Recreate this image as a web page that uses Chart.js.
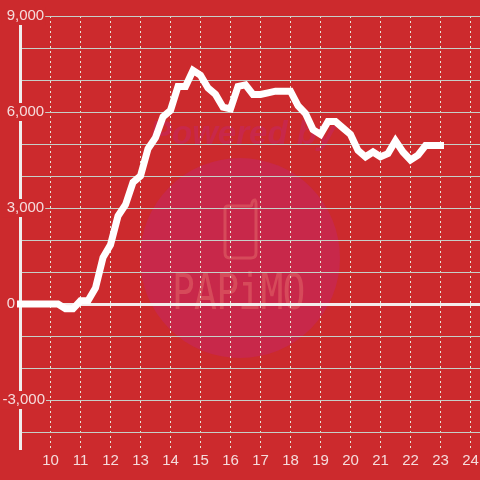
<!DOCTYPE html>
<html>
<head>
<meta charset="utf-8">
<style>html,body{margin:0;padding:0;background:#cc2a2d}canvas{display:block}</style>
<script src="https://cdn.jsdelivr.net/npm/chart.js@4/dist/chart.umd.min.js"></script>
</head>
<body>
<canvas id="c" width="480" height="480"></canvas>
<script>
const startHour = 9;
const stepHours = 0.25;
const values = [0,0,0,0,0,0,-150,-150,100,100,500,1450,1850,2750,3100,3800,4000,4850,5200,5850,6050,6800,6800,7300,7150,6750,6550,6150,6100,6800,6850,6550,6550,6600,6650,6650,6650,6200,5950,5450,5300,5700,5700,5500,5300,4800,4600,4750,4600,4700,5100,4750,4500,4650,4950,4950,4950];
const xTickValues = [9,10,11,12,13,14,15,16,17,18,19,20,21,22,23,24];
const yTickValues = [9000,8000,7000,6000,5000,4000,3000,2000,1000,0,-1000,-2000,-3000,-4000];
const labeledEvery = 3000;
const watermarkTop = "Powered by";
const watermarkLogo = "PAPiMO";

const RED = '#cc2a2d';
const LABEL = '#f5dcdc';
const wm = {
  id: 'wm',
  beforeDraw(chart) {
    const c = chart.ctx;
    c.save();
    c.fillStyle = RED;
    c.fillRect(0, 0, 480, 480);
    c.fillStyle = '#c8284a';
    c.beginPath();
    c.arc(240, 258, 100, 0, Math.PI * 2);
    c.fill();
    c.font = 'italic bold 33px "Liberation Sans"';
    c.textBaseline = 'alphabetic';
    c.textAlign = 'left';
    c.fillText(watermarkTop, 150, 144);
    c.strokeStyle = '#d64a5a';
    c.lineWidth = 3;
    c.beginPath();
    c.moveTo(228, 206);
    c.lineTo(250, 206);
    c.quadraticCurveTo(252, 206, 252, 203);
    c.quadraticCurveTo(253, 200, 255, 200);
    c.quadraticCurveTo(256, 201, 256, 204);
    c.lineTo(256, 253);
    c.quadraticCurveTo(256, 258, 251, 258);
    c.lineTo(230, 258);
    c.quadraticCurveTo(225, 258, 225, 253);
    c.lineTo(225, 209);
    c.quadraticCurveTo(225, 206, 228, 206);
    c.stroke();
    c.fillStyle = '#d64a5a';
    c.translate(172, 309);
    c.scale(0.76, 1);
    c.font = '50px "DejaVu Sans Mono"';
    c.letterSpacing = '-1px';
    c.fillText(watermarkLogo, 0, 0);
    c.restore();
  }
};

new Chart(document.getElementById('c'), {
  type: 'line',
  plugins: [wm],
  data: {
    datasets: [{
      data: values.map((v, i) => ({ x: startHour + i * stepHours, y: v })),
      borderColor: '#ffffff',
      borderWidth: 7,
      borderCapStyle: 'square',
      borderJoinStyle: 'miter',
      pointRadius: 0,
      tension: 0,
      clip: false
    }]
  },
  options: {
    responsive: false,
    animation: false,
    layout: { padding: { top: 16, bottom: 0, left: 0, right: 0 } },
    plugins: { legend: { display: false }, tooltip: { enabled: false } },
    scales: {
      x: {
        type: 'linear',
        min: 9,
        max: 24.317,
        afterBuildTicks(s) { s.ticks = xTickValues.map(value => ({ value })); },
        afterFit(s) { s.height = 31; s.paddingLeft = 0; s.paddingRight = 0; },
        border: { display: false, dash: [2, 3] },
        grid: {
          drawTicks: false,
          lineWidth: 1,
          color: ctx => ctx.tick && ctx.tick.value === 9 ? 'rgba(0,0,0,0)' : '#e6e6d8'
        },
        ticks: {
          autoSkip: false,
          maxRotation: 0,
          padding: 3,
          color: LABEL,
          font: { family: '"Liberation Sans"', size: 15 },
          callback: v => v === 9 ? '' : String(v)
        }
      },
      y: {
        min: -4531,
        max: 9000,
        afterBuildTicks(s) { s.ticks = yTickValues.map(value => ({ value })); },
        afterFit(s) { s.width = 20.5; s.paddingTop = 0; s.paddingBottom = 0; },
        border: { display: true, color: '#f0eeee', width: 3 },
        grid: {
          drawTicks: false,
          lineWidth: ctx => ctx.tick && ctx.tick.value === 0 ? 3 : 1,
          color: ctx => ctx.tick && ctx.tick.value === 0 ? '#f3ecec' : '#c6cfc8'
        },
        ticks: {
          autoSkip: false,
          mirror: true,
          padding: -18,
          color: LABEL,
          font: { family: '"Liberation Sans"', size: 15 },
          showLabelBackdrop: true,
          backdropPadding: { x: 1, y: 0 },
          backdropColor: ctx => (ctx.tick.value !== 0 && ctx.tick.value % labeledEvery === 0) ? RED : 'rgba(0,0,0,0)',
          callback: v => {
            if (v === 0) return ' 0';
            if (v % labeledEvery !== 0) return '';
            const s = v.toLocaleString('en-US');
            return v > 0 ? ' ' + s : s;
          }
        }
      }
    }
  }
});
</script>
</body>
</html>
